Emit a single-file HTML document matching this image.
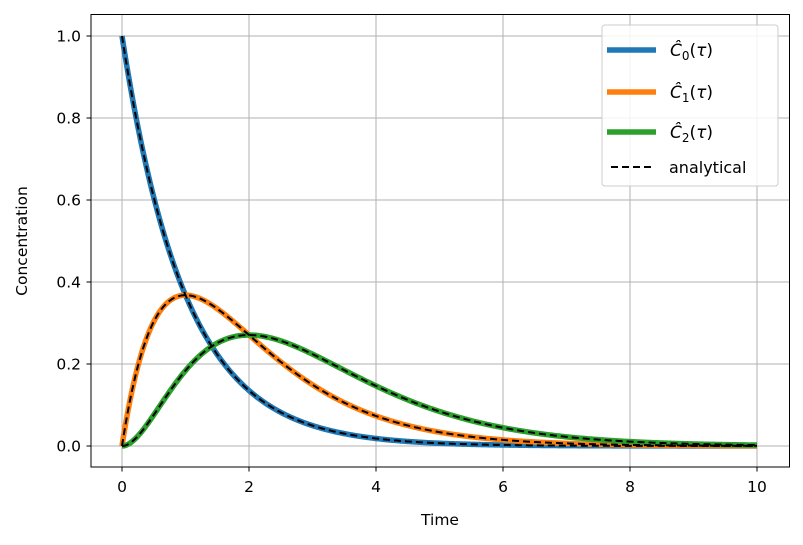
<!DOCTYPE html>
<html><head><style>body{margin:0;background:#fff}svg{display:block}text{font-family:"DejaVu Sans","Liberation Sans",sans-serif;fill:#000}</style></head>
<body>
<svg id="s" width="803" height="545" xmlns="http://www.w3.org/2000/svg">
<rect x="0" y="0" width="803" height="545" fill="#fff"/>
<g id="grid" stroke="#b0b0b0" stroke-width="1"></g>
<g id="curves" fill="none"></g>
<rect x="91" y="14.5" width="698.5" height="452.5" fill="none" stroke="#000" stroke-width="1"/>
<g id="ticks" font-size="15.5"></g>
<text x="440" y="525" font-size="15.5" text-anchor="middle">Time</text>
<text x="0" y="0" font-size="15.5" text-anchor="middle" transform="translate(27,241) rotate(-90)">Concentration</text>
<g>
<rect x="602" y="25" width="176" height="161" rx="3" fill="#fff" fill-opacity="0.85" stroke="#ccc"/>
<line x1="607" y1="50" x2="656" y2="50" stroke="#1f77b4" stroke-width="5.5"/>
<line x1="607" y1="92" x2="656" y2="92" stroke="#ff7f0e" stroke-width="5.5"/>
<line x1="607" y1="132" x2="656" y2="132" stroke="#2ca02c" stroke-width="5.5"/>
<line x1="611" y1="167" x2="653" y2="167" stroke="#000" stroke-width="2" stroke-dasharray="7,4"/>
<text x="670" y="56" font-size="17" font-style="italic">Ĉ<tspan font-style="normal" font-size="12" dy="4">0</tspan><tspan font-style="normal" dy="-4">(</tspan>τ<tspan font-style="normal">)</tspan></text>
<text x="670" y="98" font-size="17" font-style="italic">Ĉ<tspan font-style="normal" font-size="12" dy="4">1</tspan><tspan font-style="normal" dy="-4">(</tspan>τ<tspan font-style="normal">)</tspan></text>
<text x="670" y="138" font-size="17" font-style="italic">Ĉ<tspan font-style="normal" font-size="12" dy="4">2</tspan><tspan font-style="normal" dy="-4">(</tspan>τ<tspan font-style="normal">)</tspan></text>
<text x="669" y="173" font-size="16">analytical</text>
</g>
</svg>
<script>
var NS="http://www.w3.org/2000/svg";
function X(t){return 122+63.5*t}function Y(v){return 446-410*v}
function el(p,tag,a){var e=document.createElementNS(NS,tag);for(var k in a)e.setAttribute(k,a[k]);document.getElementById(p).appendChild(e);return e}
for(var i=0;i<=10;i+=2){el("grid","line",{x1:X(i),x2:X(i),y1:14.5,y2:467});
 el("ticks","line",{x1:X(i),x2:X(i),y1:467,y2:471.5,stroke:"#000"});
 el("ticks","text",{x:X(i),y:492,"text-anchor":"middle"}).textContent=i;}
for(var j=0;j<=5;j++){var v=j*0.2;el("grid","line",{x1:91,x2:789.5,y1:Y(v),y2:Y(v)});
 el("ticks","line",{x1:86.5,x2:91,y1:Y(v),y2:Y(v),stroke:"#000"});
 el("ticks","text",{x:81,y:Y(v)+5.5,"text-anchor":"end"}).textContent=v.toFixed(1);}
var fs=[function(t){return Math.exp(-t)},function(t){return t*Math.exp(-t)},function(t){return t*t/2*Math.exp(-t)}];
var cols=["#1f77b4","#ff7f0e","#2ca02c"];
function pts(f){var s=[];for(var t=0;t<=10.0001;t+=0.02)s.push(X(t).toFixed(2)+","+Y(f(t)).toFixed(2));return s.join(" ")}
fs.forEach(function(f,i){el("curves","polyline",{points:pts(f),stroke:cols[i],"stroke-width":5.5})});
fs.forEach(function(f){el("curves","polyline",{points:pts(f),stroke:"#000","stroke-width":2,"stroke-dasharray":"7,4"})});
</script>
</body></html>
